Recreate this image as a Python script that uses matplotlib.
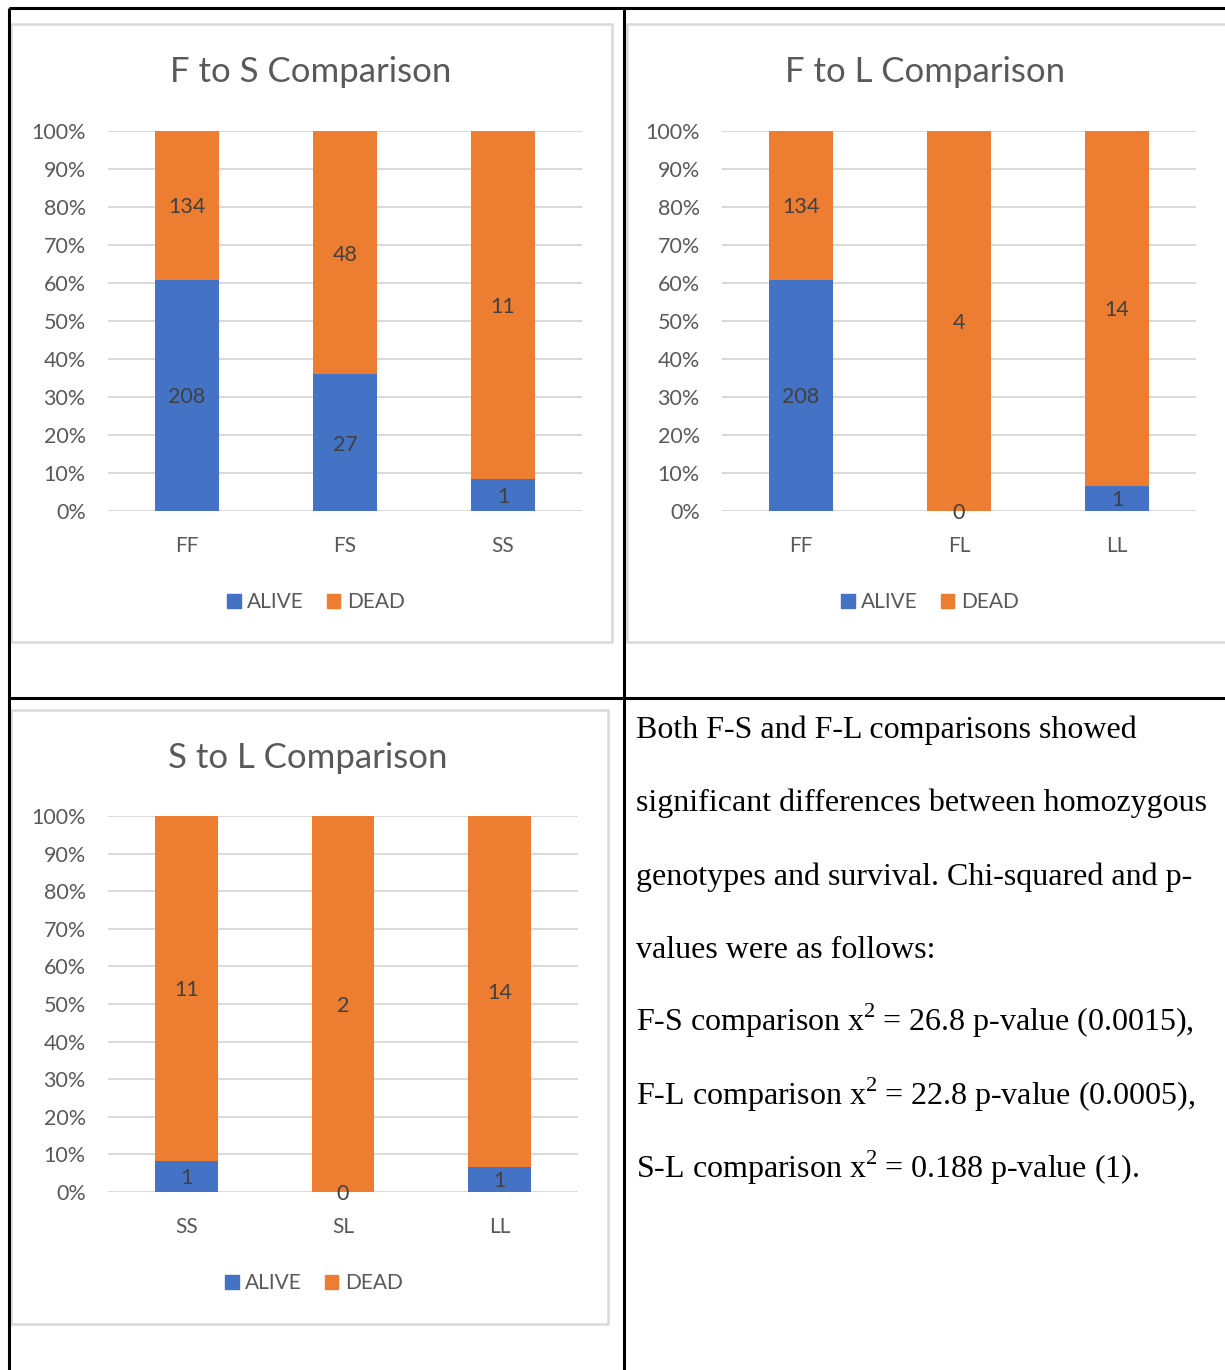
import matplotlib.pyplot as plt
import numpy as np
from matplotlib.patches import Rectangle, Patch

plt.rcParams["font.family"] = ["Lato", "DejaVu Sans"]
plt.rcParams["mathtext.fontset"] = "custom"
plt.rcParams["mathtext.rm"] = "Liberation Serif"

BLUE = "#4472C4"
ORANGE = "#ED7D31"
GRID = "#D9D9D9"
TICK = "#595959"

# survival counts per genotype
fs_cats = ["FF", "FS", "SS"]
fs_alive = [208, 27, 1]
fs_dead = [134, 48, 11]

fl_cats = ["FF", "FL", "LL"]
fl_alive = [208, 0, 1]
fl_dead = [134, 4, 14]

sl_cats = ["SS", "SL", "LL"]
sl_alive = [1, 0, 1]
sl_dead = [11, 2, 14]

summary_lines = [
    "Both F-S and F-L comparisons showed",
    "significant differences between homozygous",
    "genotypes and survival. Chi-squared and p-",
    "values were as follows:",
    "F-S comparison x$^{2}$\u2009= 26.8 p-value (0.0015),",
    "F-L comparison x$^{2}$\u2009= 22.8 p-value (0.0005),",
    "S-L comparison x$^{2}$\u2009= 0.188 p-value (1).",
]

W, H = 1225, 1370
fig = plt.figure(figsize=(W / 100, H / 100), dpi=100)

# page-level axes in pixel units for the table grid and chart frames
bg = fig.add_axes([0, 0, 1, 1])
bg.set_xlim(0, W)
bg.set_ylim(H, 0)
bg.axis("off")


def px_axes(x0, y0, x1, y1):
    return fig.add_axes([x0 / W, 1 - y1 / H, (x1 - x0) / W, (y1 - y0) / H])


# table borders
lw_table = 2.2
bg.plot([8.5, 8.5], [7.5, H], color="black", lw=lw_table, solid_capstyle="butt")
bg.plot([8.5, W], [7.5, 7.5], color="black", lw=lw_table, solid_capstyle="butt")
bg.plot([623.5, 623.5], [7.5, H], color="black", lw=lw_table, solid_capstyle="butt")
bg.plot([8.5, W], [697.5, 697.5], color="black", lw=lw_table, solid_capstyle="butt")


def stacked_chart(box, plot, title_xy, legend_xy, title, cats, alive, dead):
    bx0, by0, bx1, by1 = box
    bg.add_patch(Rectangle((bx0, by0), bx1 - bx0, by1 - by0, fill=False,
                           edgecolor=GRID, lw=1.8))
    bg.text(title_xy[0], title_xy[1], title, fontsize=25, color=TICK,
            ha="center", va="center")

    ax = px_axes(*plot)
    alive = np.array(alive, dtype=float)
    dead = np.array(dead, dtype=float)
    total = alive + dead
    pa = alive / total
    pd = dead / total
    x = np.arange(len(cats))
    ax.bar(x, pa, width=0.4, color=BLUE, zorder=2)
    ax.bar(x, pd, width=0.4, bottom=pa, color=ORANGE, zorder=2)

    for i in range(len(cats)):
        ax.text(x[i], pa[i] / 2, f"{int(alive[i])}", ha="center",
                va="center_baseline", fontsize=15.5, color="#404040", zorder=3)
        ax.text(x[i], pa[i] + pd[i] / 2, f"{int(dead[i])}", ha="center",
                va="center_baseline", fontsize=15.5, color="#404040", zorder=3)

    ax.set_xlim(-0.5, len(cats) - 0.5)
    ax.set_ylim(0, 1)
    ax.set_yticks(np.arange(0, 1.01, 0.1))
    ax.set_yticklabels([f"{v}%" for v in range(0, 101, 10)])
    ax.set_xticks(x)
    ax.set_xticklabels(cats)
    ax.tick_params(axis="y", length=0, pad=16, labelsize=15.5, labelcolor=TICK)
    ax.tick_params(axis="x", length=0, pad=18, labelsize=15, labelcolor=TICK)
    ax.grid(axis="y", color=GRID, lw=1.4, zorder=0)
    ax.set_axisbelow(True)
    for s in ax.spines.values():
        s.set_visible(False)

    handles = [Patch(color=BLUE, label="ALIVE"), Patch(color=ORANGE, label="DEAD")]
    ax.legend(handles=handles, loc="center", bbox_to_anchor=legend_xy,
              bbox_transform=bg.transData, ncol=2, frameon=False,
              fontsize=15, labelcolor=TICK, handlelength=0.65, handleheight=0.65,
              handletextpad=0.3, columnspacing=1.1)
    return ax


stacked_chart((11, 24, 612, 642), (108, 131, 582, 511), (311, 72), (316, 602),
              "F to S Comparison", fs_cats, fs_alive, fs_dead)
stacked_chart((627, 24, 1226, 642), (722, 131, 1196, 511), (925, 72), (930, 602),
              "F to L Comparison", fl_cats, fl_alive, fl_dead)
stacked_chart((11, 710, 608, 1324), (108, 816, 578, 1192), (308, 758), (314, 1283),
              "S to L Comparison", sl_cats, sl_alive, sl_dead)

# summary text cell
for i, line in enumerate(summary_lines):
    bg.text(636, 738 + i * 73.3, line, fontsize=23, family="Liberation Serif",
            color="black", ha="left", va="baseline")

fig.savefig("out.png", dpi=100)
